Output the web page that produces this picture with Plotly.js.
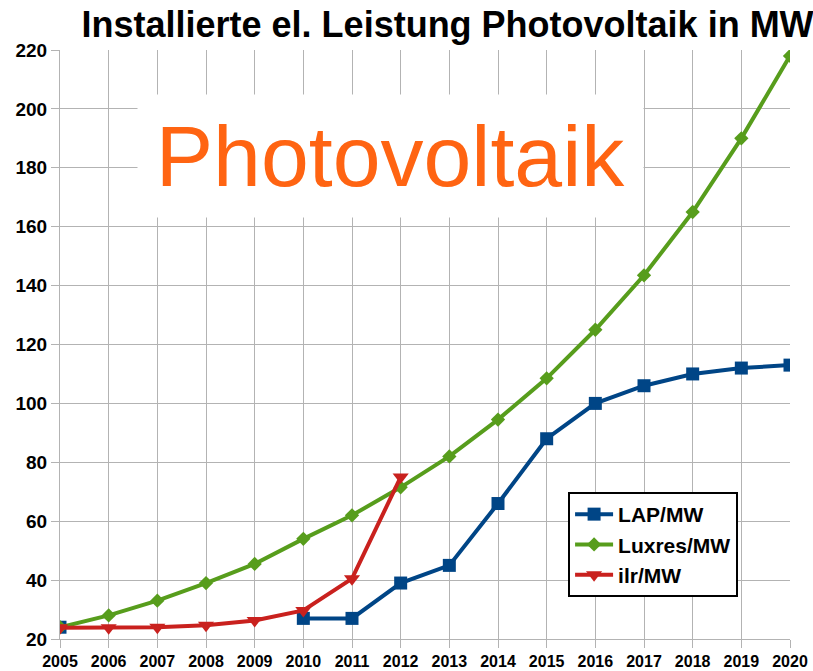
<!DOCTYPE html>
<html>
<head>
<meta charset="utf-8">
<script src="https://cdn.plot.ly/plotly-3.0.1.min.js"></script>
<style>html,body{margin:0;padding:0;background:#fff;}#chart{width:813px;height:671px;}</style>
</head>
<body>
<div id="chart"></div>
<script>
var years = [2005,2006,2007,2008,2009,2010,2011,2012,2013,2014,2015,2016,2017,2018,2019,2020];
var lapValues = [24,null,null,null,null,27,27,39,45,66,88,100,106,110,112,113];
var luxresValues = [24,28,33,39,45.5,54,62,71.5,82,94.5,108.5,125,143.5,165,190,218];
var ilrValues = [23.8,23.8,24,24.7,26.3,29.7,40.5,75,null,null,null,null,null,null,null,null];
var yTicks = [20,40,60,80,100,120,140,160,180,200,220];
var seriesNames = ['LAP/MW','Luxres/MW','ilr/MW'];
var titleText = 'Installierte el. Leistung Photovoltaik in MW';
var overlayText = 'Photovoltaik';

var font = 'Liberation Sans, Arial, sans-serif';
var traces = [
  {x: years, y: lapValues, name: seriesNames[0], type: 'scatter', mode: 'lines+markers',
   connectgaps: false,
   line: {color: '#004586', width: 4}, marker: {symbol: 'square', size: 13, color: '#004586'}},
  {x: years, y: luxresValues, name: seriesNames[1], type: 'scatter', mode: 'lines+markers',
   line: {color: '#579D1C', width: 4}, marker: {symbol: 'diamond', size: 11, color: '#579D1C'}},
  {x: years, y: ilrValues, name: seriesNames[2], type: 'scatter', mode: 'lines+markers',
   connectgaps: false,
   line: {color: '#C9211E', width: 4}, marker: {symbol: 'triangle-down', size: 14, color: '#C9211E'}}
];
var layout = {
  width: 813, height: 671,
  margin: {l: 60, r: 23, t: 50, b: 32},
  paper_bgcolor: '#fff', plot_bgcolor: '#fff',
  font: {family: font, color: '#000'},
  title: {text: '<b>' + titleText + '</b>', font: {family: font, size: 36, color: '#000'},
          xref: 'container', yref: 'container', x: 0.5505, xanchor: 'center', y: 0.963, yanchor: 'middle'},
  xaxis: {range: [2005, 2020], tickvals: years, ticktext: years.map(String),
          showgrid: true, gridcolor: '#b3b3b3', gridwidth: 1,
          showline: true, linecolor: '#b3b3b3', linewidth: 1,
          ticks: 'outside', ticklen: 8, tickcolor: '#b3b3b3',
          tickfont: {family: font, size: 16, color: '#000', weight: 'bold'}, zeroline: false},
  yaxis: {range: [20, 220], tickvals: yTicks,
          showgrid: true, gridcolor: '#b3b3b3', gridwidth: 1,
          showline: true, linecolor: '#b3b3b3', linewidth: 1,
          ticks: 'outside', ticklen: 8, tickcolor: '#b3b3b3',
          tickfont: {family: font, size: 19, color: '#000', weight: 'bold'}, zeroline: false},
  legend: {x: 0.696, y: 0.2496, xanchor: 'left', yanchor: 'top', itemwidth: 38,
           bgcolor: '#fff', bordercolor: '#000', borderwidth: 2,
           font: {family: font, size: 21, color: '#000', weight: 'bold'}},
  annotations: [{
    xref: 'paper', yref: 'paper', x: 0.4527, y: 0.82, xanchor: 'center', yanchor: 'middle',
    text: overlayText, showarrow: false, bgcolor: '#fff', borderpad: 0, width: 505, height: 122,
    font: {family: font, size: 86, color: '#FF6412'}
  }]
};
Plotly.newPlot('chart', traces, layout, {displayModeBar: false, staticPlot: true});
</script>
</body>
</html>
